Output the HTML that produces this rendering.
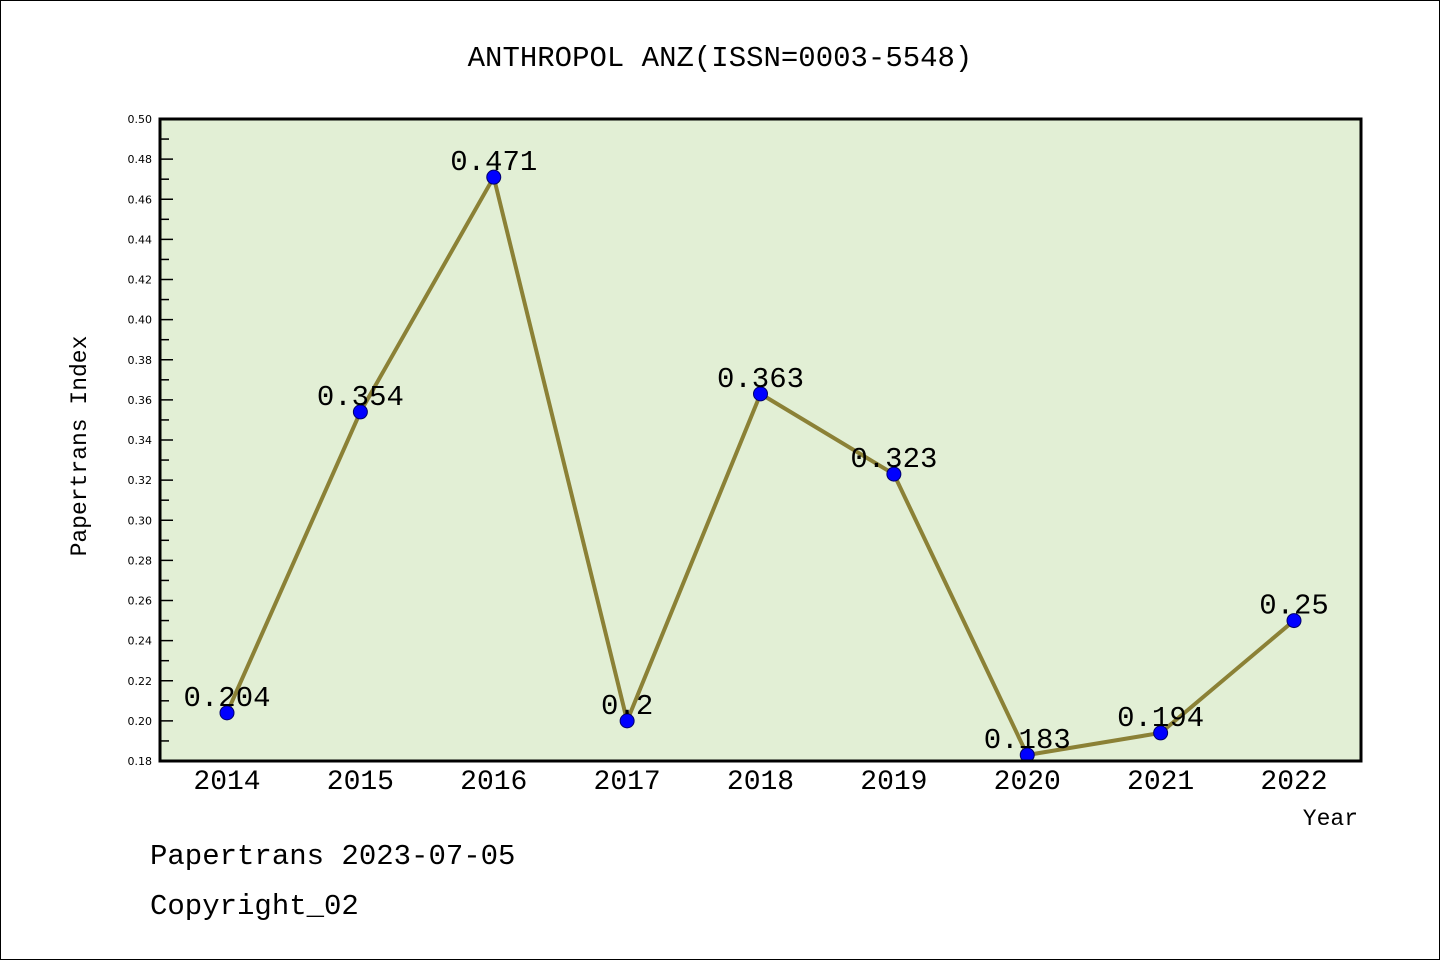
<!DOCTYPE html>
<html><head><meta charset="utf-8"><style>
body{margin:0;background:#fff}
svg{display:block}
text{font-family:"WenQuanYi Zen Hei","Liberation Mono",monospace}
</style></head><body>
<svg width="1440" height="960">
<rect x="0.5" y="0.5" width="1439" height="959" fill="#fff" stroke="#000"/>
<text x="720" y="66" font-size="29" text-anchor="middle">ANTHROPOL ANZ(ISSN=0003-5548)</text>
<rect x="160" y="119" width="1201" height="642" fill="#e2efd5"/>
<g id="axes"></g>
<g id="series"></g>
<rect x="160" y="119" width="1201" height="642" fill="none" stroke="#000" stroke-width="3"/>
<text x="86" y="446" font-size="23" text-anchor="middle" transform="rotate(-90 86 446)">Papertrans Index</text>
<text x="1358" y="825" font-size="23" text-anchor="end">Year</text>
<text x="150" y="864" font-size="29">Papertrans 2023-07-05</text>
<text x="150" y="914" font-size="29">Copyright_02</text>
</svg>
<script>
const years=["2014","2015","2016","2017","2018","2019","2020","2021","2022"];
const values=[0.204,0.354,0.471,0.2,0.363,0.323,0.183,0.194,0.25];
const labels=["0.204","0.354","0.471","0.2","0.363","0.323","0.183","0.194","0.25"];
const yMin=0.18,yMax=0.50;
const NS="http://www.w3.org/2000/svg";
function X(i){return 227+i*(1294-227)/(years.length-1);}
function Y(v){return 761-(v-yMin)/(yMax-yMin)*642;}
function mk(t,a,p){const e=document.createElementNS(NS,t);for(const k in a)e.setAttribute(k,a[k]);p.appendChild(e);return e;}
const ax=document.getElementById('axes');
for(let k=0;k<=32;k++){
  const v=yMin+k*0.01,y=Y(v),major=k%2===0;
  const t=mk('line',{x1:160,x2:160+(major?13:9),y1:y,y2:y,stroke:'#000','stroke-width':1.5},ax);
  
  
  if(major){const l=mk('text',{x:152,y:y+4,'font-size':11,'text-anchor':'end',style:'font-family:"DejaVu Sans",sans-serif'},ax);l.textContent=v.toFixed(2);
  
  }
}
years.forEach((yr,i)=>{
  const l=mk('text',{x:X(i),y:789,'font-size':28,'text-anchor':'middle'},ax);l.textContent=yr;
  
  
});
const s=document.getElementById('series');
const pl=mk('polyline',{points:values.map((v,i)=>X(i)+','+Y(v)).join(' '),fill:'none',stroke:'#8b8136','stroke-width':4},s);


values.forEach((v,i)=>{
  const c=mk('circle',{cx:X(i),cy:Y(v),r:7,fill:'#0000ff',stroke:'#00006a','stroke-width':1},s);
  
  
  const t=mk('text',{x:X(i),y:Y(v)-7,'font-size':29,'text-anchor':'middle'},s);t.textContent=labels[i];
  
  
});
</script>
</body></html>
